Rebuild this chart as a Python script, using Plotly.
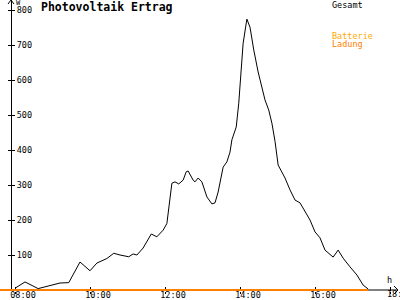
import plotly.graph_objects as go

day = "2020-06-01 "
times = ["08:00", "08:16", "08:37", "08:56", "09:12", "09:26", "09:44", "10:00", "10:11", "10:27",
         "10:38", "10:48", "11:02", "11:09", "11:15", "11:25", "11:38", "11:47", "11:57", "12:03",
         "12:11", "12:16", "12:22", "12:29", "12:34", "12:37", "12:45", "12:48", "12:53", "12:59",
         "13:07", "13:15", "13:20", "13:25", "13:33", "13:39", "13:44", "13:47", "13:54", "13:58",
         "14:05", "14:11", "14:16", "14:22", "14:29", "14:40", "14:46", "14:51", "14:56", "15:01",
         "15:12", "15:20", "15:28", "15:36", "15:44", "15:52", "16:00", "16:08", "16:16", "16:29",
         "16:37", "16:45", "16:56", "17:07", "17:17", "17:25"]
gesamt = [5, 23, 4, 12, 20, 21, 80, 55, 77, 90,
          105, 100, 95, 103, 100, 120, 160, 152, 171, 190,
          305, 309, 303, 314, 338, 340, 314, 309, 320, 309,
          266, 246, 249, 280, 351, 366, 394, 429, 466, 534,
          705, 774, 751, 686, 623, 543, 514, 477, 425, 357,
          320, 286, 257, 249, 223, 200, 166, 149, 114, 94,
          114, 91, 66, 43, 14, 3]
ladung_times = ["07:36", "17:25"]
ladung = [0, 0]

y_ticks = [100, 200, 300, 400, 500, 600, 700, 800]
x_range = ["07:36", "18:16"]
y_range = [-2.857, 828.6]

BLACK = "#000000"
ORANGE = "#FF8000"
BATT = "#FFA800"
FONT = "DejaVu Sans Mono"
H = 291  # plot area height in px

fig = go.Figure()
fig.add_trace(go.Scatter(x=[day + t for t in ladung_times], y=ladung, mode="lines",
                         line=dict(color=ORANGE, width=2), showlegend=False, hoverinfo="skip",
                         cliponaxis=False))
fig.add_trace(go.Scatter(x=[day + t for t in times], y=gesamt, mode="lines",
                         line=dict(color=BLACK, width=1), showlegend=False, hoverinfo="skip"))

ypos = 11 / 400
fig.update_layout(
    width=400, height=300,
    margin=dict(l=0, r=0, t=0, b=300 - H),
    paper_bgcolor="white", plot_bgcolor="white",
    font=dict(family=FONT, size=8.5, color=BLACK),
    xaxis=dict(type="date", range=[day + x_range[0], day + x_range[1]], automargin=False,
               tick0=day + "08:00", dtick=7200000, tickformat="%H:%M",
               showgrid=False, zeroline=False, showline=False,
               ticks="outside", ticklen=2, tickcolor=BLACK, ticklabelshift=8,
               ticklabelstandoff=-6, layer="below traces",
               tickfont=dict(family=FONT, size=8.5, color=BLACK)),
    xaxis2=dict(type="date", overlaying="x", matches="x", side="top", anchor="free", position=0,
                automargin=False, tick0=day + "08:00", dtick=7200000, showticklabels=False,
                showgrid=False, zeroline=False, showline=False, layer="below traces",
                ticks="outside", ticklen=4, tickcolor=BLACK),
    yaxis=dict(range=y_range, anchor="free", position=ypos, side="right", automargin=False,
               tickvals=y_ticks, showgrid=False, zeroline=False, showline=True,
               linecolor=BLACK, linewidth=1, ticks="outside", ticklen=3, tickcolor=BLACK,
               ticklabelstandoff=0, layer="below traces",
               tickfont=dict(family=FONT, size=8.5, color=BLACK)),
    yaxis2=dict(range=y_range, overlaying="y", matches="y", anchor="free", position=ypos, side="left",
                automargin=False, tickvals=y_ticks, showticklabels=False, showgrid=False,
                zeroline=False, showline=False, ticks="outside", ticklen=3, tickcolor=BLACK,
                layer="below traces"),
)
fig.add_trace(go.Scatter(x=[day + times[0]], y=[None], xaxis="x2", yaxis="y2",
                         showlegend=False, hoverinfo="skip"))

def py(p):
    return (H - p) / H

shapes = [
    dict(type="line", xref="paper", yref="y", x0=0, x1=398/400, y0=0, y1=0,
         line=dict(color=BLACK, width=1), layer="below"),
    dict(type="path", xref="paper", yref="paper",
         path=f"M {8/400} {py(4)} L {11/400} {py(0)} L {14/400} {py(4)}",
         line=dict(color=BLACK, width=1)),
    dict(type="path", xref="paper", yref="paper",
         path=f"M {394/400} {py(286)} L {398/400} {py(290)} L {394/400} {py(294)}",
         line=dict(color=BLACK, width=1)),
]
fig.update_layout(shapes=shapes)

annos = [
    dict(text="<b>Photovoltaik Ertrag</b>", x=39/400, y=py(7), xanchor="left", yanchor="middle",
         font=dict(family=FONT, size=11.5, color=BLACK)),
    dict(text="W", x=14/400, y=py(3), xanchor="left", yanchor="middle", font=dict(size=7)),
    dict(text="h", x=385/400, y=py(280), xanchor="left", yanchor="middle", font=dict(size=8.5)),
    dict(text="18:", x=385/400, y=py(294), xanchor="left", yanchor="middle", font=dict(size=8.5)),
    dict(text="Gesamt", x=330/400, y=py(5), xanchor="left", yanchor="middle", font=dict(size=8.5, color=BLACK)),
    dict(text="Batterie", x=330/400, y=py(36), xanchor="left", yanchor="middle", font=dict(size=8.5, color=BATT)),
    dict(text="Ladung", x=330/400, y=py(44), xanchor="left", yanchor="middle", font=dict(size=8.5, color=ORANGE)),
]
for a in annos:
    a.update(xref="paper", yref="paper", showarrow=False)
fig.update_layout(annotations=annos)

fig.write_html("out.html")
